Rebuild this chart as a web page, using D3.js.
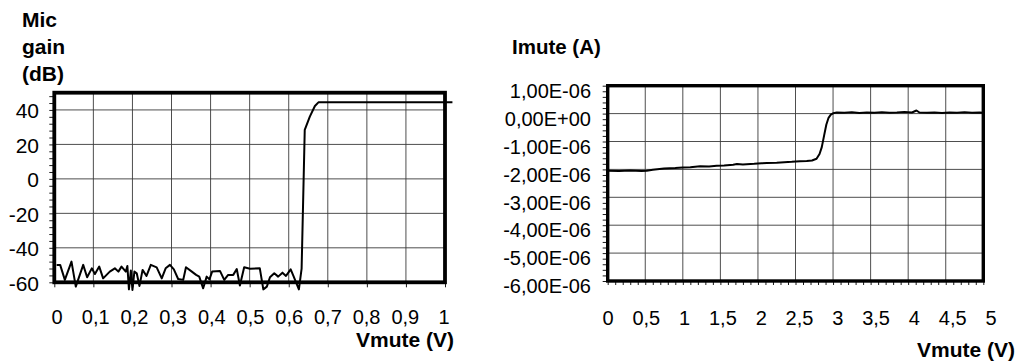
<!DOCTYPE html>
<html><head><meta charset="utf-8">
<script src="https://cdn.jsdelivr.net/npm/d3@7"></script>
<style>
html,body{margin:0;padding:0;background:#fff;}
text{font-family:"Liberation Sans",Arial,sans-serif;fill:#000;}
</style></head>
<body>
<svg id="c" width="1018" height="364"></svg>
<script>
// ---------- DATA ----------
// Left chart: Mic gain (dB) vs Vmute (V)
const micV = [0.006,0.015,0.027,0.044,0.055,0.074,0.084,0.096,0.104,0.115,0.125,0.142,0.155,0.164,0.172,0.183,0.187,0.191,0.196,0.200,0.205,0.211,0.218,0.226,0.236,0.247,0.262,0.275,0.285,0.296,0.306,0.317,0.330,0.337,0.352,0.363,0.371,0.381,0.390,0.397,0.404,0.424,0.435,0.445,0.458,0.467,0.475,0.486,0.501,0.526,0.535,0.544,0.552,0.563,0.573,0.584,0.593,0.605,0.612,0.626,0.633,0.641,0.654,0.667,0.676,1.019];
const micGain = [-49.9,-49.9,-58.6,-48.0,-62.5,-49.9,-57.1,-51.9,-55.2,-50.9,-57.7,-53.8,-51.9,-53.8,-50.9,-53.8,-50.5,-64.1,-53.2,-64.4,-53.8,-54.8,-62.1,-52.8,-56.3,-49.9,-51.3,-57.7,-51.9,-49.9,-52.5,-58.1,-58.6,-51.3,-53.8,-55.7,-56.7,-63.5,-56.7,-58.3,-53.8,-53.4,-58.6,-55.7,-55.7,-52.3,-61.9,-51.3,-52.1,-51.9,-64.1,-62.5,-57.1,-54.8,-56.7,-54.4,-56.3,-52.5,-56.3,-64.1,-52.0,28.4,36.1,42.3,44.4,44.4];
const leftXTicks = [0,0.1,0.2,0.3,0.4,0.5,0.6,0.7,0.8,0.9,1];
const leftXLabels = ["0","0,1","0,2","0,3","0,4","0,5","0,6","0,7","0,8","0,9","1"];
const leftYTicks = [-60,-40,-20,0,20,40];
const leftYLabels = ["-60","-40","-20","0","20","40"];

// Right chart: Imute (A) vs Vmute (V)
const imuteV = [0.00,0.15,0.30,0.45,0.52,0.60,0.75,0.90,1.00,1.10,1.23,1.35,1.45,1.55,1.67,1.72,1.80,1.95,2.05,2.12,2.25,2.35,2.45,2.56,2.65,2.72,2.78,2.82,2.85,2.88,2.91,2.94,2.97,3.00,3.05,3.15,3.25,3.35,3.45,3.55,3.65,3.75,3.85,3.95,4.05,4.11,4.15,4.25,4.35,4.45,4.55,4.65,4.75,4.85,4.95,5.00];
const imuteA = [-2.05e-6,-2.06e-6,-2.04e-6,-2.06e-6,-2.05e-6,-2.01e-6,-1.97e-6,-1.95e-6,-1.93e-6,-1.92e-6,-1.89e-6,-1.90e-6,-1.87e-6,-1.86e-6,-1.83e-6,-1.81e-6,-1.82e-6,-1.80e-6,-1.78e-6,-1.77e-6,-1.76e-6,-1.74e-6,-1.73e-6,-1.71e-6,-1.70e-6,-1.68e-6,-1.62e-6,-1.45e-6,-1.20e-6,-0.80e-6,-0.40e-6,-0.15e-6,-0.04e-6,0.01e-6,0.04e-6,0.03e-6,0.05e-6,0.02e-6,0.04e-6,0.03e-6,0.05e-6,0.03e-6,0.04e-6,0.06e-6,0.04e-6,0.11e-6,0.04e-6,0.03e-6,0.04e-6,0.02e-6,0.04e-6,0.03e-6,0.05e-6,0.03e-6,0.04e-6,0.03e-6];
const rightXTicks = [0,0.5,1,1.5,2,2.5,3,3.5,4,4.5,5];
const rightXLabels = ["0","0,5","1","1,5","2","2,5","3","3,5","4","4,5","5"];
const rightYTicks = [1e-6,0,-1e-6,-2e-6,-3e-6,-4e-6,-5e-6,-6e-6];
const rightYLabels = ["1,00E-06","0,00E+00","-1,00E-06","-2,00E-06","-3,00E-06","-4,00E-06","-5,00E-06","-6,00E-06"];

// ---------- DRAW ----------
const svg = d3.select("#c");

function panel(cfg){
  const {x, y, xLab, xTicks, xLabels, yTicks, yLabels, xMinor, yMinor, xs, ys, labelX, xLabelY, yFont, xFont, yOff, frameW} = cfg;
  const g = svg.append("g");
  const [x0,x1] = x.range(), [y0,y1] = y.range(); // y0 bottom, y1 top
  // grid
  g.append("g").selectAll("line").data(xTicks.slice(1,-1)).join("line")
    .attr("x1",d=>x(d)).attr("x2",d=>x(d)).attr("y1",y1).attr("y2",y0)
    .attr("stroke","#3a3a3a").attr("stroke-width",0.9);
  g.append("g").selectAll("line").data(yTicks.filter(d=>d>y.domain()[0] && d<y.domain()[1])).join("line")
    .attr("x1",x0).attr("x2",x1).attr("y1",d=>y(d)).attr("y2",d=>y(d))
    .attr("stroke","#3a3a3a").attr("stroke-width",0.9);
  // tick marks via axes
  const ax = g.append("g").attr("transform",`translate(0,${y0})`)
    .call(d3.axisBottom(x).tickValues(xMinor).tickSize(cfg.xTickLen).tickFormat(""));
  ax.select(".domain").remove();
  ax.selectAll("line").attr("stroke","#000").attr("stroke-width",0.9);
  const ay = g.append("g").attr("transform",`translate(${x0},0)`)
    .call(d3.axisLeft(y).tickValues(yMinor).tickSize(5).tickFormat(""));
  ay.select(".domain").remove();
  ay.selectAll("line").attr("stroke","#000").attr("stroke-width",0.9);
  // frame
  g.append("rect").attr("x",x0).attr("y",y1).attr("width",x1-x0).attr("height",y0-y1)
    .attr("fill","none").attr("stroke","#000").attr("stroke-width",frameW);
  // data line
  const pts = xs.map((v,i)=>[v, ys[i]]);
  g.append("path").datum(pts)
    .attr("d", d3.line().x(d=>x(d[0])).y(d=>y(d[1])))
    .attr("fill","none").attr("stroke","#000").attr("stroke-width",2).attr("stroke-linejoin","round");
  // y labels
  g.append("g").selectAll("text").data(yTicks).join("text")
    .attr("x",labelX).attr("y",d=>y(d)+yOff).attr("dy","0.36em").attr("text-anchor","end")
    .style("font-size",yFont+"px").text((d,i)=>yLabels[i]);
  // x labels
  g.append("g").selectAll("text").data(xTicks).join("text")
    .attr("x",d=>xLab(d)).attr("y",xLabelY).attr("text-anchor","middle")
    .style("font-size",xFont+"px").text((d,i)=>xLabels[i]);
  return g;
}

const xL = d3.scaleLinear().domain([0,1]).range([54.3,445]);
const yL = d3.scaleLinear().domain([-60,50]).range([282.3,92.7]);
const xLlab = d3.scaleLinear().domain([0,1]).range([57,444]);
panel({x:xL, y:yL, xLab:xLlab, xTicks:leftXTicks, xLabels:leftXLabels, yTicks:leftYTicks, yLabels:leftYLabels,
  xMinor:leftXTicks, yMinor:d3.range(-60,50,4), xTickLen:5, xs:micV, ys:micGain,
  labelX:39, xLabelY:324, yFont:21, xFont:20, yOff:1, frameW:3.8});

const xR = d3.scaleLinear().domain([0,5]).range([607.7,983.3]);
const yR = d3.scaleLinear().domain([-6e-6,1e-6]).range([281,85.7]);
const xRlab = d3.scaleLinear().domain([0,5]).range([608,991]);
panel({x:xR, y:yR, xLab:xRlab, xTicks:rightXTicks, xLabels:rightXLabels, yTicks:rightYTicks, yLabels:rightYLabels,
  xMinor:d3.range(0,50.5,1).map(d=>d/10), yMinor:d3.range(-30,5.5,1).map(d=>d*0.2e-6), xTickLen:4, xs:imuteV, ys:imuteA,
  labelX:591, xLabelY:325, yFont:20, xFont:20, yOff:5, frameW:3.4});

// titles
["Mic","gain","(dB)"].forEach((s,i)=>{
  svg.append("text").attr("x",22).attr("y",27+i*27).style("font-size","21px").style("font-weight","bold").text(s);
});
svg.append("text").attr("x",512).attr("y",54).style("font-size","20.5px").style("font-weight","bold").text("Imute (A)");
svg.append("text").attr("x",454).attr("y",347).attr("text-anchor","end").style("font-size","21px").style("font-weight","bold").text("Vmute (V)");
svg.append("text").attr("x",1015).attr("y",357).attr("text-anchor","end").style("font-size","21px").style("font-weight","bold").text("Vmute (V)");
</script>
</body></html>
